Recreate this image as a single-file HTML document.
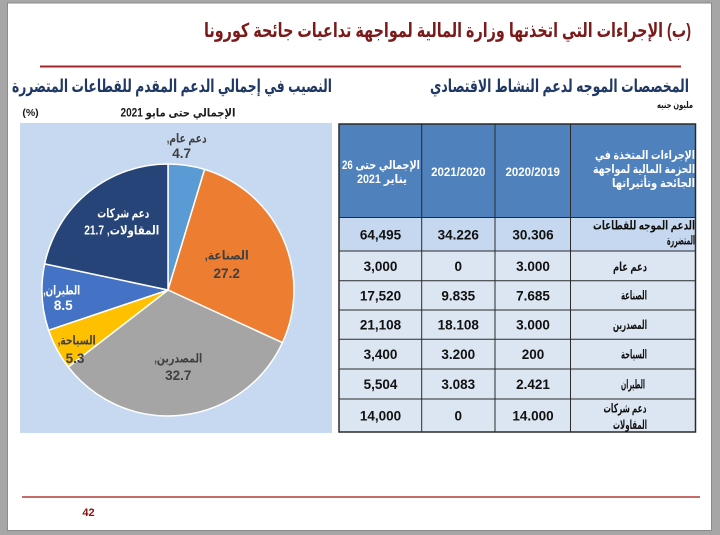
<!DOCTYPE html>
<html><head><meta charset="utf-8"><style>
html,body{margin:0;padding:0;background:#a6a6a6;}
svg{display:block;}
text{font-family:"Liberation Sans","DejaVu Sans",sans-serif;font-weight:bold;}
</style></head><body>
<svg width="720" height="535" viewBox="0 0 720 535" xmlns="http://www.w3.org/2000/svg">
<rect x="0" y="0" width="720" height="535" fill="#a6a6a6"/>
<rect x="7.5" y="3" width="704" height="527.5" fill="#ffffff" stroke="#8a8a8a" stroke-width="1"/>

<!-- Title -->
<text x="447.5" y="37" font-size="19.5" fill="#7b1a1a" direction="rtl" text-anchor="middle" textLength="487" lengthAdjust="spacingAndGlyphs">(ب) الإجراءات التي اتخذتها وزارة المالية لمواجهة تداعيات جائحة كورونا</text>
<line x1="40" y1="66.5" x2="681" y2="66.5" stroke="#a52626" stroke-width="2"/>

<!-- Subheadings -->
<text x="559.5" y="92" font-size="17.5" fill="#1f3864" direction="rtl" text-anchor="middle" textLength="259" lengthAdjust="spacingAndGlyphs">المخصصات الموجه لدعم النشاط الاقتصادي</text>
<text x="172" y="92" font-size="17.5" fill="#1f3864" direction="rtl" text-anchor="middle" textLength="320" lengthAdjust="spacingAndGlyphs">النصيب في إجمالي الدعم المقدم للقطاعات المتضررة</text>

<text x="675" y="108" font-size="9.5" fill="#1a1a1a" direction="rtl" text-anchor="middle" textLength="36" lengthAdjust="spacingAndGlyphs">مليون جنيه</text>
<text x="30.5" y="116" font-size="10.5" fill="#1a1a1a" text-anchor="middle">(%)</text>
<text x="178" y="116.5" font-size="11.5" fill="#1a1a1a" direction="rtl" text-anchor="middle" textLength="115" lengthAdjust="spacingAndGlyphs">الإجمالي حتى مايو 2021</text>

<!-- Pie area -->
<rect x="20" y="123" width="312" height="310" fill="#c6d9f0"/>
<g stroke="#ffffff" stroke-width="1.5" stroke-linejoin="round">
<path d="M168,290 L168,164 A126,126 0 0 1 204.6,169.4 Z" fill="#5b9bd5"/>
<path d="M168,290 L204.6,169.4 A126,126 0 0 1 282.4,342.7 Z" fill="#ed7d31"/>
<path d="M168,290 L282.4,342.7 A126,126 0 0 1 68.3,367.0 Z" fill="#a5a5a5"/>
<path d="M168,290 L68.3,367.0 A126,126 0 0 1 48.6,330.2 Z" fill="#ffc000"/>
<path d="M168,290 L48.6,330.2 A126,126 0 0 1 44.7,263.9 Z" fill="#4472c4"/>
<path d="M168,290 L44.7,263.9 A126,126 0 0 1 168,164 Z" fill="#264478"/>
</g>

<!-- Pie labels -->
<text x="186.7" y="142.5" font-size="12.5" fill="#404040" direction="rtl" text-anchor="middle" textLength="40" lengthAdjust="spacingAndGlyphs">دعم عام,</text>
<text x="181.7" y="158" font-size="13.5" fill="#404040" text-anchor="middle">4.7</text>

<text x="226.7" y="259.5" font-size="12.5" fill="#404040" direction="rtl" text-anchor="middle" textLength="44" lengthAdjust="spacingAndGlyphs">الصناعة,</text>
<text x="226.7" y="278" font-size="13.5" fill="#404040" text-anchor="middle">27.2</text>

<text x="178.3" y="362.5" font-size="12.5" fill="#404040" direction="rtl" text-anchor="middle" textLength="48" lengthAdjust="spacingAndGlyphs">المصدرين,</text>
<text x="178.3" y="380" font-size="13.5" fill="#404040" text-anchor="middle">32.7</text>

<text x="76.7" y="344.5" font-size="12.5" fill="#404040" direction="rtl" text-anchor="middle" textLength="38" lengthAdjust="spacingAndGlyphs">السياحة,</text>
<text x="75" y="363" font-size="13.5" fill="#404040" text-anchor="middle">5.3</text>

<text x="61.7" y="294.5" font-size="12.5" fill="#ffffff" direction="rtl" text-anchor="middle" textLength="37" lengthAdjust="spacingAndGlyphs">الطيران,</text>
<text x="63.3" y="310" font-size="13.5" fill="#ffffff" text-anchor="middle">8.5</text>

<text x="123.3" y="217.5" font-size="12.5" fill="#ffffff" direction="rtl" text-anchor="middle" textLength="52" lengthAdjust="spacingAndGlyphs">دعم شركات</text>
<text x="121.7" y="234.5" font-size="12.5" fill="#ffffff" direction="rtl" text-anchor="middle" textLength="75" lengthAdjust="spacingAndGlyphs">المقاولات, 21.7</text>

<!-- Table -->
<rect x="339" y="124" width="356.5" height="93.5" fill="#4f81bd"/>
<rect x="339" y="217.5" width="356.5" height="33.5" fill="#c5d8f0"/>
<rect x="339" y="251" width="356.5" height="181" fill="#dce6f2"/>
<g stroke="#2a2a2a" stroke-width="1">
<line x1="339" y1="217.5" x2="695.5" y2="217.5"/>
<line x1="339" y1="251" x2="695.5" y2="251"/>
<line x1="339" y1="280.7" x2="695.5" y2="280.7"/>
<line x1="339" y1="310" x2="695.5" y2="310"/>
<line x1="339" y1="339.3" x2="695.5" y2="339.3"/>
<line x1="339" y1="369" x2="695.5" y2="369"/>
<line x1="339" y1="399" x2="695.5" y2="399"/>
<line x1="421.7" y1="124" x2="421.7" y2="432"/>
<line x1="495" y1="124" x2="495" y2="432"/>
<line x1="570.5" y1="124" x2="570.5" y2="432"/>
</g>
<rect x="339" y="124" width="356.5" height="308" fill="none" stroke="#2a2a2a" stroke-width="1.5"/>

<!-- Header text -->
<text x="645" y="159" font-size="12" fill="#ffffff" direction="rtl" text-anchor="middle" textLength="100" lengthAdjust="spacingAndGlyphs">الإجراءات المتخذة في</text>
<text x="644" y="173" font-size="12" fill="#ffffff" direction="rtl" text-anchor="middle" textLength="102" lengthAdjust="spacingAndGlyphs">الحزمة المالية لمواجهة</text>
<text x="653.5" y="187" font-size="12" fill="#ffffff" direction="rtl" text-anchor="middle" textLength="83" lengthAdjust="spacingAndGlyphs">الجائحة وتأثيراتها</text>
<text x="532.7" y="176" font-size="11.5" fill="#ffffff" text-anchor="middle">2020/2019</text>
<text x="458.3" y="176" font-size="11.5" fill="#ffffff" text-anchor="middle">2021/2020</text>
<text x="381" y="169" font-size="12" fill="#ffffff" direction="rtl" text-anchor="middle" textLength="78" lengthAdjust="spacingAndGlyphs">الإجمالي حتى 26</text>
<text x="382" y="183" font-size="12" fill="#ffffff" direction="rtl" text-anchor="middle" textLength="50" lengthAdjust="spacingAndGlyphs">يناير 2021</text>

<!-- Row labels -->
<g fill="#111111" font-size="12.5">
<text x="644" y="229.5" direction="rtl" text-anchor="middle" textLength="102" lengthAdjust="spacingAndGlyphs">الدعم الموجه للقطاعات</text>
<text x="681" y="244.5" direction="rtl" text-anchor="middle" textLength="28" lengthAdjust="spacingAndGlyphs">المتضررة</text>
<text x="630" y="271" direction="rtl" text-anchor="middle" textLength="34" lengthAdjust="spacingAndGlyphs">دعم عام</text>
<text x="634" y="299.5" direction="rtl" text-anchor="middle" textLength="26" lengthAdjust="spacingAndGlyphs">الصناعة</text>
<text x="630" y="329" direction="rtl" text-anchor="middle" textLength="34" lengthAdjust="spacingAndGlyphs">المصدرين</text>
<text x="634" y="358.5" direction="rtl" text-anchor="middle" textLength="26" lengthAdjust="spacingAndGlyphs">السياحة</text>
<text x="633" y="388.5" direction="rtl" text-anchor="middle" textLength="24" lengthAdjust="spacingAndGlyphs">الطيران</text>
<text x="625" y="412.5" direction="rtl" text-anchor="middle" textLength="43" lengthAdjust="spacingAndGlyphs">دعم شركات</text>
<text x="630" y="429" direction="rtl" text-anchor="middle" textLength="34" lengthAdjust="spacingAndGlyphs">المقاولات</text>
</g>

<!-- Numbers -->
<g fill="#111111" font-size="13.5" text-anchor="middle">
<text x="533" y="239.5">30.306</text><text x="458.3" y="239.5">34.226</text><text x="380.5" y="239.5">64,495</text>
<text x="533" y="271">3.000</text><text x="458.3" y="271">0</text><text x="380.5" y="271">3,000</text>
<text x="533" y="300.3">7.685</text><text x="458.3" y="300.3">9.835</text><text x="380.5" y="300.3">17,520</text>
<text x="533" y="329.7">3.000</text><text x="458.3" y="329.7">18.108</text><text x="380.5" y="329.7">21,108</text>
<text x="533" y="359">200</text><text x="458.3" y="359">3.200</text><text x="380.5" y="359">3,400</text>
<text x="533" y="389">2.421</text><text x="458.3" y="389">3.083</text><text x="380.5" y="389">5,504</text>
<text x="533" y="420.5">14.000</text><text x="458.3" y="420.5">0</text><text x="380.5" y="420.5">14,000</text>
</g>

<!-- Footer -->
<line x1="22" y1="497" x2="700" y2="497" stroke="#c86a6a" stroke-width="2"/>
<text x="88.5" y="516" font-size="11" fill="#8b1010" text-anchor="middle">42</text>
</svg>
</body></html>
